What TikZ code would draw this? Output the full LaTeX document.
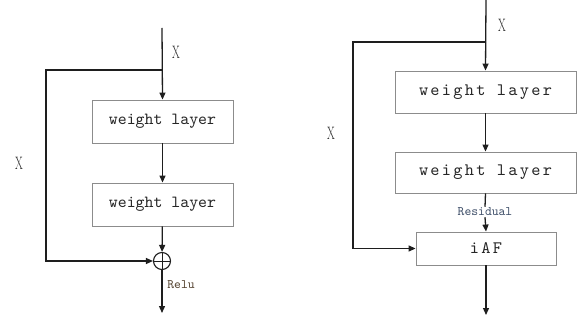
\documentclass[tikz,border=0pt]{standalone}
\usepackage{fontspec}
\usetikzlibrary{arrows.meta}
\newfontfamily\boxfont{lmmono10-regular}[Extension=.otf]
\newfontfamily\boxfontwide{lmmono10-regular}[Extension=.otf,LetterSpace=13]
\definecolor{linec}{HTML}{1E1E1E}
\definecolor{boxc}{HTML}{8C8C8C}
\definecolor{txtc}{HTML}{262626}
\definecolor{reluc}{HTML}{54422F}
\definecolor{resc}{HTML}{40506A}
\tikzset{
  flow/.style={draw=linec, line width=1.3pt},
  arr/.style={flow, -{Triangle[length=7pt,width=6pt]}},
  layer/.style={draw=boxc, line width=0.9pt, minimum width=141pt, minimum height=43pt,
    inner sep=0pt, text=txtc, font=\boxfont\fontsize{17}{20}\selectfont},
  layerwide/.style={layer, minimum width=181pt, minimum height=42pt,
    font=\boxfontwide\fontsize{17.5}{20}\selectfont},
  xlab/.style={text=txtc, font=\fontsize{18}{20}\selectfont, inner sep=0pt},
  small/.style={font=\boxfont\fontsize{13}{14}\selectfont, inner sep=0pt},
  sum/.style={circle, draw=linec, line width=1.1pt, minimum size=17pt, inner sep=0pt,
    path picture={\draw[linec, line width=0.9pt]
      (path picture bounding box.north) -- (path picture bounding box.south)
      (path picture bounding box.west) -- (path picture bounding box.east);}}
}
\begin{document}
\begin{tikzpicture}[x=1pt, y=-1pt]
\useasboundingbox (0,0) rectangle (585,323);

% ---- plain residual block ----
\coordinate (Ltop) at (162,28);
\coordinate (Lsplit) at (162,70);
\coordinate (Lcorner) at (46,70);
\coordinate (Lbend) at (46,261);
\coordinate (Lend) at (162,313);
\node[layer] (L1) at (162.5,121.5) {weight layer};
\node[layer] (L2) at (162.5,204.5) {weight layer};
\node[sum] (Lsum) at (162,261) {};
\node[xlab] (Lx1) at (176,52) {\scalebox{0.62}[1]{X}};
\node[xlab] (Lx2) at (19,163) {\scalebox{0.62}[1]{X}};
\node[small, text=reluc] (Lrelu) at (181,285) {Relu};

\draw[arr] (Ltop) -- (L1.north);
\draw[arr] (L1) -- (L2);
\draw[arr] (L2) -- (Lsum);
\draw[arr] (Lsplit) -- (Lcorner) -- (Lbend) -- (Lsum.west);
\draw[arr] (Lsum) -- (Lend);

% ---- block with iAF ----
\coordinate (Rtop) at (486,0);
\coordinate (Rsplit) at (486,42);
\coordinate (Rcorner) at (353,42);
\coordinate (Rbend) at (353,248.5);
\coordinate (Rend) at (486,315);
\node[layerwide] (R1) at (485.5,92) {weight layer};
\node[layerwide, minimum height=41pt] (R2) at (485.5,172.5) {weight layer};
\node[layerwide, minimum width=140pt, minimum height=33pt] (Riaf) at (486,248.5) {iAF};
\node[xlab] (Rx1) at (502,25) {\scalebox{0.62}[1]{X}};
\node[xlab] (Rx2) at (331,133) {\scalebox{0.62}[1]{X}};
\node[small, text=resc, fill=white, inner sep=1pt] (Rres) at (485,212) {Residual};

\draw[arr] (Rtop) -- (R1.north);
\draw[arr] (R1) -- (R2);
\draw[flow] (R2.south) -- (Rres.north);
\draw[arr] (Rres.south) -- (Riaf.north);
\draw[arr] (Rsplit) -- (Rcorner) -- (Rbend) -- (Riaf.west);
\draw[arr] (Riaf) -- (Rend);
\end{tikzpicture}
\end{document}
